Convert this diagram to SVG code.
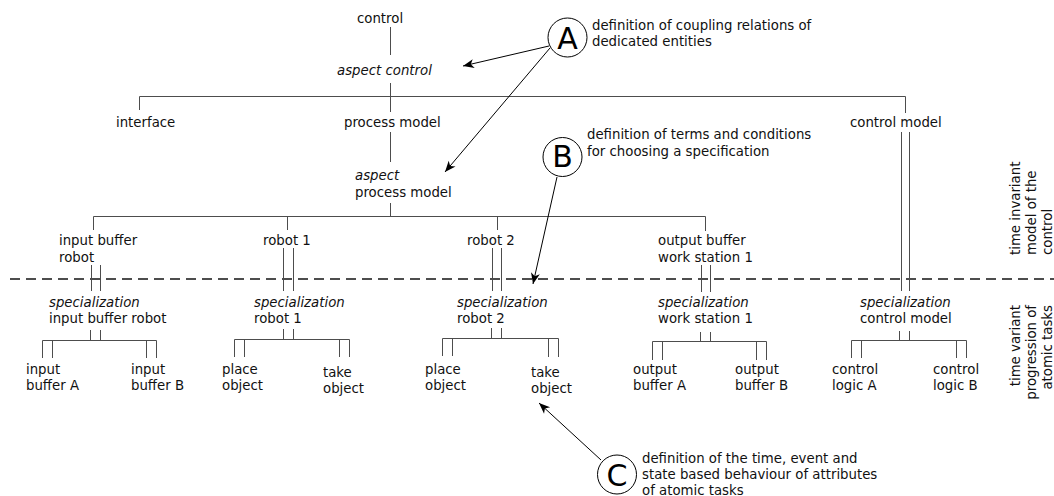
<svg xmlns="http://www.w3.org/2000/svg" width="1054" height="496" viewBox="0 0 1054 496">
  <style>
    .t { font-family: "DejaVu Sans", "Liberation Sans", sans-serif; font-size: 13.3px; fill: #111; }
    .i { font-style: italic; }
    .big { font-family: "DejaVu Sans", "Liberation Sans", sans-serif; font-size: 30px; fill: #000; text-anchor: middle; }
    .ln { stroke: #4d4d4d; stroke-width: 1; fill: none; }
    .dash { stroke: #4d4d4d; stroke-width: 2.2; stroke-dasharray: 10 6; fill: none; }
    .arr { stroke: #000; stroke-width: 1; fill: none; marker-end: url(#ah); }
    .circ { fill: #fff; stroke: #000; stroke-width: 1; }
  </style>
  <defs>
    <marker id="ah" viewBox="-12 -6 13 12" refX="0" refY="0" markerWidth="13" markerHeight="12" markerUnits="userSpaceOnUse" orient="auto">
      <path d="M0,0 L-11,-4.5 L-8,0 L-11,4.5 Z" fill="#000"/>
    </marker>
  </defs>

  <rect width="1054" height="496" fill="#fff"/>

  <!-- connectors -->
  <g id="connectors">
    <!-- upper tree -->
    <path class="ln" d="M390.5 27 V55 M390.5 83 V112 M139.5 96.5 H905.5 M139.5 96.5 V110 M905.5 96.5 V113"/>
    <path class="ln" d="M390.5 132 V162 M390.5 203 V216.5 M93.5 216.5 H705.5 M93.5 216.5 V230 M287.5 216.5 V230 M497.5 216.5 V230 M705.5 216.5 V231"/>
    <!-- specialization links across the time boundary -->
    <path class="ln" d="M91.5 265 V291 M100.5 265 V291"/>
    <path class="ln" d="M283.5 248 V291 M293.5 248 V291"/>
    <path class="ln" d="M492.5 248 V291 M501.5 248 V291"/>
    <path class="ln" d="M701.5 265 V292 M710.5 265 V292"/>
    <path class="ln" d="M901.5 132 V291 M909.5 132 V291"/>
    <!-- atomic task branches -->
    <path class="ln" d="M90.5 330 V340.5 M100.5 330 V340.5 M42.5 340.5 H156.5 M42.5 340.5 V358 M52.5 340.5 V358 M146.5 340.5 V358 M156.5 340.5 V358"/>
    <path class="ln" d="M283.5 329 V339.5 M293.5 329 V339.5 M234.5 339.5 H349.5 M234.5 339.5 V357 M244.5 339.5 V357 M339.5 339.5 V357 M349.5 339.5 V357"/>
    <path class="ln" d="M491.5 328 V338.5 M501.5 328 V338.5 M442.5 338.5 H558.5 M442.5 338.5 V356 M452.5 338.5 V356 M548.5 338.5 V357 M558.5 338.5 V357"/>
    <path class="ln" d="M700.5 332 V341.5 M710.5 332 V341.5 M652.5 341.5 H766.5 M652.5 341.5 V360 M662.5 341.5 V360 M756.5 341.5 V360 M766.5 341.5 V360"/>
    <path class="ln" d="M899.5 331 V340.5 M909.5 331 V340.5 M851.5 340.5 H966.5 M851.5 340.5 V358 M861.5 340.5 V358 M956.5 340.5 V358 M966.5 340.5 V358"/>
    <!-- time boundary -->
    <path class="dash" d="M10 279 H1054"/>
    <!-- annotation arrows -->
    <path class="arr" d="M549 46 L463 66"/>
    <path class="arr" d="M550 48 L445 172"/>
    <path class="arr" d="M557 177 L533 284"/>
    <path class="arr" d="M601 460 L539 403"/>
  </g>

  <!-- upper tree nodes -->
  <g id="control"><text class="t" x="357" y="22.7">control</text></g>
  <g id="aspect-control"><text class="t i" x="337" y="75">aspect control</text></g>
  <g id="interface"><text class="t" x="116" y="126.5">interface</text></g>
  <g id="process-model"><text class="t" x="344" y="126.5">process model</text></g>
  <g id="control-model"><text class="t" x="850" y="127">control model</text></g>
  <g id="aspect-process-model">
    <text class="t" x="355"><tspan class="i" x="355" y="180">aspect</tspan><tspan x="355" y="197">process model</tspan></text>
  </g>
  <g id="input-buffer-robot">
    <text class="t"><tspan x="59" y="244.5">input buffer</tspan><tspan x="59" y="261.5">robot</tspan></text>
  </g>
  <g id="robot-1"><text class="t" x="263" y="244.5">robot 1</text></g>
  <g id="robot-2"><text class="t" x="467" y="244.5">robot 2</text></g>
  <g id="output-buffer">
    <text class="t"><tspan x="658" y="244.5">output buffer</tspan><tspan x="658" y="261.5">work station 1</tspan></text>
  </g>

  <!-- specializations -->
  <g id="spec-input-buffer-robot">
    <text class="t"><tspan class="i" x="49" y="306.5">specialization</tspan><tspan x="49" y="323">input buffer robot</tspan></text>
  </g>
  <g id="spec-robot-1">
    <text class="t"><tspan class="i" x="254" y="306.5">specialization</tspan><tspan x="254" y="323">robot 1</tspan></text>
  </g>
  <g id="spec-robot-2">
    <text class="t"><tspan class="i" x="457" y="306.5">specialization</tspan><tspan x="457" y="323">robot 2</tspan></text>
  </g>
  <g id="spec-work-station-1">
    <text class="t"><tspan class="i" x="658" y="306.5">specialization</tspan><tspan x="658" y="323">work station 1</tspan></text>
  </g>
  <g id="spec-control-model">
    <text class="t"><tspan class="i" x="860" y="306.5">specialization</tspan><tspan x="860" y="323">control model</tspan></text>
  </g>

  <!-- atomic tasks -->
  <g id="input-buffer-a"><text class="t"><tspan x="26" y="373.5">input</tspan><tspan x="26" y="390">buffer A</tspan></text></g>
  <g id="input-buffer-b"><text class="t"><tspan x="131" y="373.5">input</tspan><tspan x="131" y="390">buffer B</tspan></text></g>
  <g id="r1-place-object"><text class="t"><tspan x="222" y="373.5">place</tspan><tspan x="222" y="390">object</tspan></text></g>
  <g id="r1-take-object"><text class="t"><tspan x="323" y="376.5">take</tspan><tspan x="323" y="393">object</tspan></text></g>
  <g id="r2-place-object"><text class="t"><tspan x="425" y="373.5">place</tspan><tspan x="425" y="390">object</tspan></text></g>
  <g id="r2-take-object"><text class="t"><tspan x="531" y="376.5">take</tspan><tspan x="531" y="393">object</tspan></text></g>
  <g id="output-buffer-a"><text class="t"><tspan x="633" y="373.5">output</tspan><tspan x="633" y="390">buffer A</tspan></text></g>
  <g id="output-buffer-b"><text class="t"><tspan x="735" y="373.5">output</tspan><tspan x="735" y="390">buffer B</tspan></text></g>
  <g id="control-logic-a"><text class="t"><tspan x="832" y="373.5">control</tspan><tspan x="832" y="390">logic A</tspan></text></g>
  <g id="control-logic-b"><text class="t"><tspan x="933" y="373.5">control</tspan><tspan x="933" y="390">logic B</tspan></text></g>

  <!-- side captions -->
  <g id="caption-invariant">
    <text class="t" transform="translate(1020,255) rotate(-90)"><tspan x="0" y="0">time invariant</tspan><tspan x="0" y="16">model of the</tspan><tspan x="0" y="32">control</tspan></text>
  </g>
  <g id="caption-variant">
    <text class="t" text-anchor="end" transform="translate(1020,305) rotate(-90)"><tspan x="0" y="0">time variant</tspan><tspan x="0" y="16">progression of</tspan><tspan x="0" y="32">atomic tasks</tspan></text>
  </g>

  <!-- annotations -->
  <g id="note-a">
    <circle class="circ" cx="567.5" cy="37.5" r="19.5"/>
    <text class="big" x="567.5" y="48.5">A</text>
    <text class="t"><tspan x="592" y="29.5">definition of coupling relations of</tspan><tspan x="592" y="46">dedicated entities</tspan></text>
  </g>
  <g id="note-b">
    <circle class="circ" cx="562.5" cy="157" r="19.5"/>
    <text class="big" x="562.5" y="167">B</text>
    <text class="t"><tspan x="587" y="139">definition of terms and conditions</tspan><tspan x="587" y="155.5">for choosing a specification</tspan></text>
  </g>
  <g id="note-c">
    <circle class="circ" cx="617" cy="474.5" r="19.5"/>
    <text class="big" x="617" y="485.5">C</text>
    <text class="t"><tspan x="642" y="462.5">definition of the time, event and</tspan><tspan x="642" y="478.5">state based behaviour of attributes</tspan><tspan x="642" y="494.5">of atomic tasks</tspan></text>
  </g>
</svg>
